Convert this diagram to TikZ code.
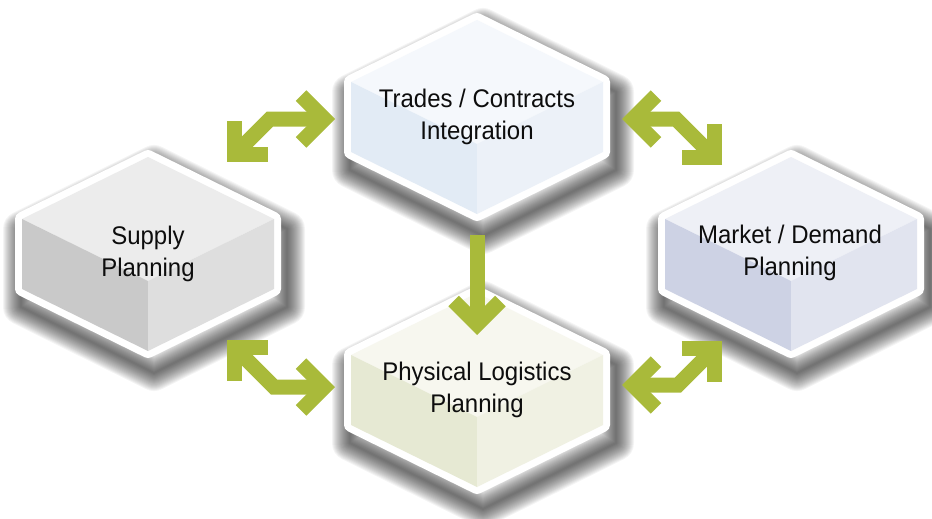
\documentclass[tikz,border=0pt]{standalone}
\usepackage{fontspec}
\setmainfont{Liberation Sans}[FakeStretch=0.94]
\usetikzlibrary{arrows.meta}

\definecolor{ArrowGreen}{RGB}{169,186,58}
% Flaechen der Wuerfel (oben / links / rechts)
\definecolor{SupplyTop}{RGB}{236,236,236}
\definecolor{SupplyLeft}{RGB}{201,201,201}
\definecolor{SupplyRight}{RGB}{222,222,222}
\definecolor{TradesTop}{RGB}{245,248,252}
\definecolor{TradesLeft}{RGB}{226,235,245}
\definecolor{TradesRight}{RGB}{236,241,248}
\definecolor{LogisticsTop}{RGB}{247,247,239}
\definecolor{LogisticsLeft}{RGB}{230,233,211}
\definecolor{LogisticsRight}{RGB}{240,241,227}
\definecolor{MarketTop}{RGB}{238,240,246}
\definecolor{MarketLeft}{RGB}{205,210,228}
\definecolor{MarketRight}{RGB}{225,228,239}

\tikzset{
  box text/.style={font=\fontsize{25.5}{31.5}\selectfont, align=center, text=black!95},
  barb/.tip={Straight Barb[angle=90:33pt, sharp]},
  link/.style={draw=ArrowGreen, line width=15pt, line join=miter, barb-barb},
  oneway/.style={draw=ArrowGreen, line width=15pt, line join=miter, -barb},
}

\begin{document}
\begin{tikzpicture}[x=1pt, y=-1pt]
\useasboundingbox (0,0) rectangle (932,519);

% Schatten, weich ausgeblendet
\foreach \cx/\cy in {148/254, 477/117, 477/390, 791/254} {
  \begin{scope}[shift={(\cx+6,\cy+14)}]
    \foreach \w in {36,34,...,2}
      \draw[black, opacity=.045, line width=\w pt, line join=round] (0,-105) -- ++(133,66) -- ++(0,78) -- ++(-133,66) -- ++(-133,-66) -- ++(0,-78) -- cycle;
  \end{scope}
}

% Wuerfel mit weissem Rand
\foreach \cx/\cy/\kind in {148/254/Supply, 477/117/Trades, 477/390/Logistics, 791/254/Market} {
  \begin{scope}[shift={(\cx,\cy)}]
    \filldraw[white, line width=14pt, line join=round] (0,-97) -- (126,-35) -- (126,35) -- (0,97) -- (-126,35) -- (-126,-35) -- cycle;
    \fill[\kind Top] (0,-97) -- (126,-35) -- (0,27) -- (-126,-35) -- cycle;
    \fill[\kind Left] (-126,-35) -- (0,27) -- (0,97) -- (-126,35) -- cycle;
    \fill[\kind Right] (0,27) -- (126,-35) -- (126,35) -- (0,97) -- cycle;
  \end{scope}
}

\node[box text] (supply) at (148,254) {Supply\\Planning};
\node[box text] (trades) at (477,117) {Trades / Contracts\\Integration};
\node[box text] (logistics) at (477,390) {Physical Logistics\\Planning};
\node[box text] (market) at (790,253) {Market / Demand\\Planning};

% Pfeile
\coordinate (st1) at (227,162);
\coordinate (st2) at (270,119);
\coordinate (st3) at (335,119);
\coordinate (tm1) at (622,119);
\coordinate (tm2) at (676,119);
\coordinate (tm3) at (722,165);
\coordinate (sl1) at (227,340);
\coordinate (sl2) at (274,387);
\coordinate (sl3) at (335,387);
\coordinate (lm1) at (622,385);
\coordinate (lm2) at (678,385);
\coordinate (lm3) at (722,341);
\coordinate (tl1) at (477,235);
\coordinate (tl2) at (477,335);

\draw[link] (st1) -- (st2) -- (st3);
\draw[link] (tm1) -- (tm2) -- (tm3);
\draw[link] (sl1) -- (sl2) -- (sl3);
\draw[link] (lm1) -- (lm2) -- (lm3);
\draw[oneway] (tl1) -- (tl2);

\end{tikzpicture}
\end{document}
